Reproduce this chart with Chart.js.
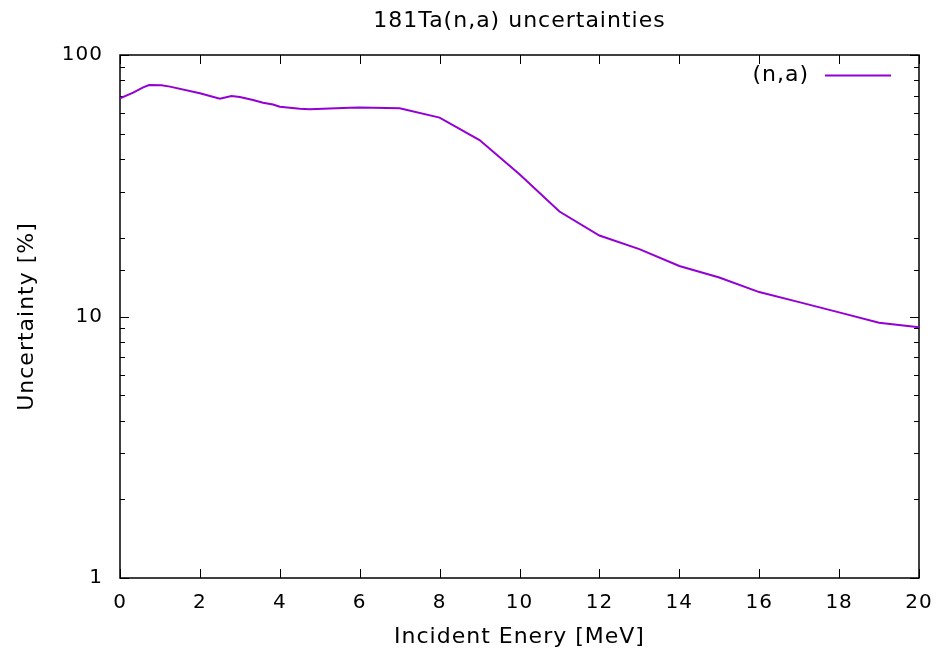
<!DOCTYPE html>
<html lang="en">
  <head>
    <meta charset="UTF-8" />
    <title>181Ta(n,a) uncertainties</title>
    <script src="https://cdn.jsdelivr.net/npm/chart.js"></script>
    <style>
      html, body { margin: 0; padding: 0; background: #fff; }
      .chart { width: 939px; height: 651px; position: relative; }
    </style>
  </head>
  <body>
    <div class="chart">
      <canvas id="uncChart"></canvas>
    </div>

    <script>
      // incident energy [MeV] and (n,a) uncertainty [%]
      const energy = [0, 0.33, 0.58, 0.73, 1.04, 1.25, 2.0, 2.5, 2.79, 3.0, 3.33, 3.58, 3.83, 4.0, 4.5, 4.75, 5.75, 6.0, 7.0, 8.0, 9.0, 10.0, 11.0, 12.0, 13.0, 14.0, 15.0, 16.0, 17.0, 18.0, 19.0, 20.0];
      const uncertainty = [68.3, 71.8, 75.2, 76.8, 76.6, 75.7, 71.4, 68.0, 69.7, 69.1, 67.3, 65.7, 64.7, 63.4, 62.3, 62.0, 62.9, 63.0, 62.6, 57.6, 47.3, 35.0, 25.2, 20.4, 18.1, 15.6, 14.1, 12.4, 11.35, 10.37, 9.47, 9.09];
      const xTicks = [0, 2, 4, 6, 8, 10, 12, 14, 16, 18, 20];
      const yLabels = [1, 10, 100];
      const plotTitle = "181Ta(n,a) uncertainties";

      const TICK_FONT = { family: "DejaVu Sans", size: 20 };
      const TEXT_FONT = { family: "DejaVu Sans", size: 22 };
      const LINE_COLOR = "#9400d3";

      // frame + inward ticks on all four sides, gnuplot style
      const frameTicks = {
        id: "frameTicks",
        beforeDraw(chart) {
          chart.ctx.letterSpacing = "1px";
        },
        beforeDatasetsDraw(chart) {
          const { ctx, chartArea: a, scales } = chart;
          ctx.save();
          ctx.strokeStyle = "#000";
          ctx.lineWidth = 1;
          ctx.beginPath();
          scales.x.ticks.forEach(t => {
            const px = Math.round(scales.x.getPixelForValue(t.value)) + 0.5;
            ctx.moveTo(px, a.bottom); ctx.lineTo(px, a.bottom - 9);
            ctx.moveTo(px, a.top); ctx.lineTo(px, a.top + 9);
          });
          scales.y.ticks.forEach(t => {
            const py = Math.round(scales.y.getPixelForValue(t.value)) + 0.5;
            const len = yLabels.includes(t.value) ? 9 : 5;
            ctx.moveTo(a.left, py); ctx.lineTo(a.left + len, py);
            ctx.moveTo(a.right, py); ctx.lineTo(a.right - len, py);
          });
          ctx.stroke();
          ctx.lineWidth = 1.5;
          ctx.strokeRect(a.left, a.top, a.right - a.left, a.bottom - a.top);
          ctx.restore();
        },
        // title centred over the plot, key in the top right corner
        afterDraw(chart) {
          const { ctx, chartArea: a } = chart;
          const ds = chart.data.datasets[0];
          const y = a.top + 20.5;
          ctx.save();
          ctx.font = `${TEXT_FONT.size}px ${TEXT_FONT.family}`;
          ctx.fillStyle = "#000";
          ctx.textBaseline = "middle";
          ctx.textAlign = "center";
          ctx.fillText(plotTitle, (a.left + a.right) / 2, 21);
          ctx.textAlign = "right";
          ctx.fillText(ds.label, a.right - 110, y);
          ctx.strokeStyle = ds.borderColor;
          ctx.lineWidth = ds.borderWidth;
          ctx.beginPath();
          ctx.moveTo(a.right - 94, y);
          ctx.lineTo(a.right - 28, y);
          ctx.stroke();
          ctx.restore();
        }
      };

      const ctx = document.getElementById("uncChart").getContext("2d");
      const uncChart = new Chart(ctx, {
        type: "line",
        data: {
          datasets: [{
            label: "(n,a)",
            data: energy.map((e, i) => ({ x: e, y: uncertainty[i] })),
            borderColor: LINE_COLOR,
            backgroundColor: LINE_COLOR,
            borderWidth: 2,
            pointRadius: 0,
            tension: 0
          }]
        },
        options: {
          responsive: true,
          maintainAspectRatio: false,
          animation: false,
          layout: { padding: { left: 0, right: 20, top: 55, bottom: 0 } },
          plugins: {
            title: { display: false },
            legend: { display: false },
            tooltip: { enabled: false }
          },
          scales: {
            x: {
              type: "linear",
              min: 0,
              max: 20,
              afterFit: s => {
                s.height = 73;
                s.paddingLeft = 0;
                s.paddingRight = 0;
              },
              afterBuildTicks: s => { s.ticks = xTicks.map(v => ({ value: v })); },
              grid: { display: false, drawTicks: false },
              border: { display: false },
              ticks: { color: "#000", font: TICK_FONT, padding: 13, maxRotation: 0 },
              title: {
                display: true,
                text: "Incident Enery [MeV]",
                color: "#000",
                font: TEXT_FONT,
                padding: { top: 0, bottom: 1 }
              }
            },
            y: {
              type: "logarithmic",
              min: 1,
              max: 100,
              afterFit: s => {
                s.width = 120;
                s.paddingTop = 0;
                s.paddingBottom = 0;
              },
              grid: { display: false, drawTicks: false },
              border: { display: false },
              ticks: {
                color: "#000",
                font: TICK_FONT,
                padding: 17,
                autoSkip: false,
                callback: v => (yLabels.includes(v) ? String(v) : "")
              },
              title: {
                display: true,
                text: "Uncertainty [%]",
                color: "#000",
                font: TEXT_FONT,
                padding: { top: 14, bottom: 0 }
              }
            }
          }
        },
        plugins: [frameTicks]
      });
    </script>
  </body>
</html>
